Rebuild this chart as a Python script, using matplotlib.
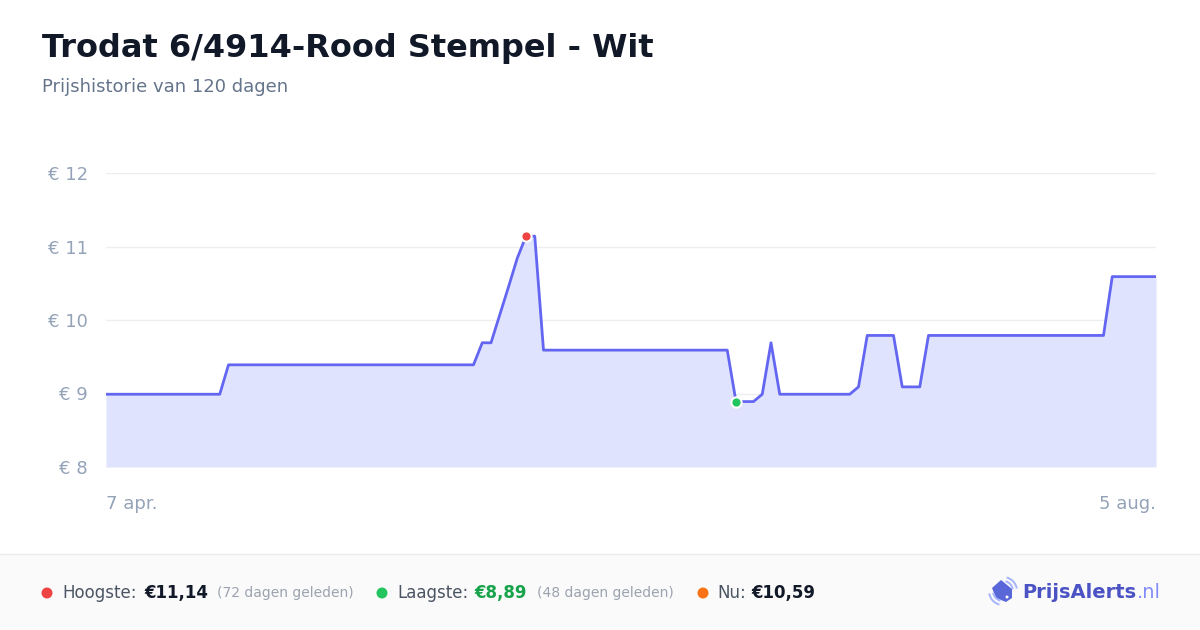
import matplotlib.pyplot as plt
from matplotlib.patches import Rectangle, Polygon, Arc, Circle, Ellipse

# price history, breakpoints (day index 0 = 7 apr., 120 = 5 aug.)
days = [0, 13, 14, 42, 43, 44, 45, 46, 47, 48, 49, 50, 71, 72, 74, 75, 76, 77,
        85, 86, 87, 90, 91, 93, 94, 114, 115, 120]
prices = [8.99, 8.99, 9.39, 9.39, 9.69, 9.69, 10.07, 10.45, 10.84, 11.14, 11.14, 9.59,
          9.59, 8.89, 8.89, 8.99, 9.69, 8.99, 8.99, 9.09, 9.79, 9.79, 9.09, 9.09,
          9.79, 9.79, 10.59, 10.59]

high_day, high_price = 48, 11.14
low_day, low_price = 72, 8.89

y_ticks = [8, 9, 10, 11, 12]
y_labels = ["€ 8", "€ 9", "€ 10", "€ 11", "€ 12"]
x_ticks = [0, 120]
x_labels = ["7 apr.", "5 aug."]

LINE = "#6366f1"
FILL = "#e0e3fd"
GRID = "#eceef2"
TICK = "#94a3b8"

W, H = 1200, 630
fig = plt.figure(figsize=(12, 6.3), dpi=100)
fig.patch.set_facecolor("white")

# footer band (behind everything)
fig.patches.append(Rectangle((0, 0), 1, 76 / H, transform=fig.transFigure,
                             facecolor="#fafafa", edgecolor="none", zorder=-5))
fig.lines.append(plt.Line2D([0, 1], [76 / H, 76 / H], transform=fig.transFigure,
                            color="#ececec", lw=1, zorder=-4))

ax = fig.add_axes([106 / W, 1 - 467 / H, 1050 / W, 294 / H])
ax.fill_between(days, prices, 8, color=FILL, lw=0, zorder=1)
ax.plot(days, prices, color=LINE, lw=2, zorder=3, solid_joinstyle="round")
ax.scatter([high_day], [high_price], s=55, color="#ef4444", edgecolor="white",
           linewidth=1.5, zorder=5)
ax.scatter([low_day], [low_price], s=55, color="#22c55e", edgecolor="white",
           linewidth=1.5, zorder=5)

ax.set_xlim(0, 120)
ax.set_ylim(8, 12)
ax.set_yticks(y_ticks)
ax.set_yticklabels(y_labels)
ax.set_xticks(x_ticks)
ax.set_xticklabels(x_labels)
for lab, ha in zip(ax.get_xticklabels(), ["left", "right"]):
    lab.set_horizontalalignment(ha)
ax.tick_params(axis="both", length=0, labelsize=13, labelcolor=TICK)
ax.tick_params(axis="y", pad=13)
ax.tick_params(axis="x", pad=20)
ax.grid(axis="y", color=GRID, lw=1, zorder=0)
ax.set_axisbelow(True)
for s in ax.spines.values():
    s.set_visible(False)
ax.axhline(8, color="#e2e5ec", lw=1, zorder=2)

# titles
fig.text(42 / W, 1 - 48 / H, "Trodat 6/4914-Rood Stempel - Wit", fontsize=23,
         fontweight="bold", color="#111827", va="center")
fig.text(42 / W, 1 - 87 / H, "Prijshistorie van 120 dagen", fontsize=13,
         color="#64748b", va="center")

# footer stats
fy = 1 - 593 / H


def dot(x, c):
    fig.patches.append(Ellipse((x / W, fy), 11 / W, 11 / H, transform=fig.transFigure,
                               facecolor=c, edgecolor="none"))


dot(47, "#ef4444")
fig.text(62 / W, fy, "Hoogste:", fontsize=12, color="#4b5563", va="center")
fig.text(144 / W, fy, "€11,14", fontsize=12, color="#111827", fontweight="bold", va="center")
fig.text(217 / W, fy, "(72 dagen geleden)", fontsize=10, color="#9ca3af", va="center")
dot(382, "#22c55e")
fig.text(397 / W, fy, "Laagste:", fontsize=12, color="#4b5563", va="center")
fig.text(474 / W, fy, "€8,89", fontsize=12, color="#16a34a", fontweight="bold", va="center")
fig.text(537 / W, fy, "(48 dagen geleden)", fontsize=10, color="#9ca3af", va="center")
dot(703, "#f97316")
fig.text(717 / W, fy, "Nu:", fontsize=12, color="#4b5563", va="center")
fig.text(751 / W, fy, "€10,59", fontsize=12, color="#111827", fontweight="bold", va="center")

# logo (drawn in pixel coordinates)
logo = fig.add_axes([983 / W, 1 - 612 / H, 38 / W, 38 / H])
logo.set_xlim(983, 1021)
logo.set_ylim(612, 574)
logo.axis("off")
logo.add_patch(Polygon([[992, 588], [1001, 580], [1012, 589], [1012, 598], [1006, 602],
                        [996, 598]], closed=True, facecolor="#5a67d8", edgecolor="none"))
logo.add_patch(Circle((1007, 597), 1.5, facecolor="white", edgecolor="none"))
for r in (10, 14):
    logo.add_patch(Arc((1003, 591), 2 * r, 2 * r, theta1=285, theta2=350,
                       color="#a5b4fc", lw=1.4))
    logo.add_patch(Arc((1003, 591), 2 * r, 2 * r, theta1=105, theta2=170,
                       color="#a5b4fc", lw=1.4))
fig.text(1022 / W, fy, "PrijsAlerts", fontsize=14, fontweight="bold", color="#4a52c4", va="center")
fig.text(1137 / W, fy, ".nl", fontsize=14, color="#818cf8", va="center")

fig.savefig("out.png", dpi=100)
